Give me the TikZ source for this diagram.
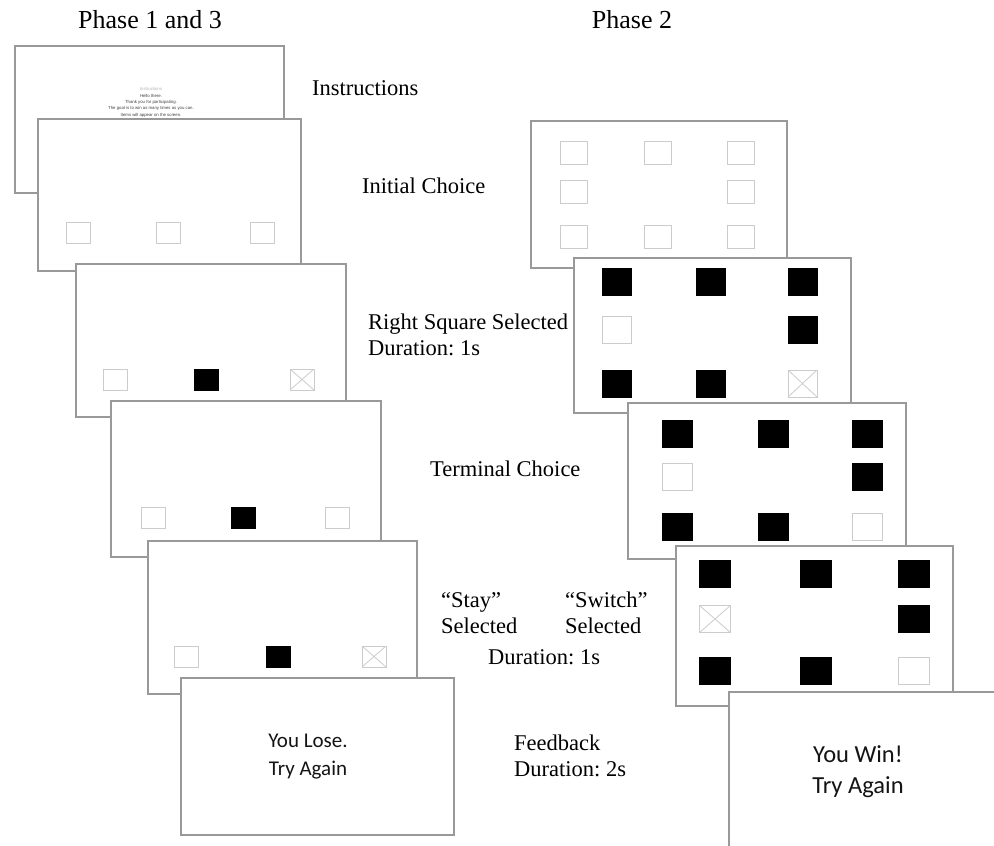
\documentclass[tikz,border=0pt]{standalone}
\usepackage{fontspec}
\setmainfont{Liberation Serif}
\newfontfamily\calib{Carlito}
\newfontfamily\tinysans{Liberation Sans}
\usetikzlibrary{shadows}
\frenchspacing
\begin{document}
\begin{tikzpicture}[x=1pt,y=-1pt,
  screen/.style={draw=gray!80, line width=1.5pt, fill=white, anchor=north west,
    inner sep=0pt, minimum width=270pt, minimum height=152pt,
    drop shadow={shadow xshift=1.2pt, shadow yshift=-1.2pt, fill=gray!45}},
  osq/.style={draw=gray!40, line width=0.8pt, fill=white, inner sep=0pt,
    minimum width=#1},
  osq/.default=24pt,
  bsq/.style={draw=black, fill=black, inner sep=0pt, minimum width=#1},
  bsq/.default=24pt,
  xsq/.style={osq=#1, path picture={
    \draw[gray!40, line width=0.8pt] (path picture bounding box.north west) -- (path picture bounding box.south east)
      (path picture bounding box.south west) -- (path picture bounding box.north east);}},
  xsq/.default=24pt,
  small/.style={minimum height=21pt},
  big/.style={minimum height=27pt},
  lab/.style={font=\frenchspacing\fontsize{22.5}{26}\selectfont, inner sep=0pt, align=left, anchor=west},
  phase/.style={font=\fontsize{26}{30}\selectfont, inner sep=0pt},
  fb/.style={font=\calib\fontsize{21}{28}\selectfont, inner sep=0pt, align=center, text=black!92}
]
\useasboundingbox (0,0) rectangle (994,846);
\clip (0,0) rectangle (994,846);

% titles
\node[phase] (p13) at (150,20) {Phase 1 and 3};
\node[phase] (p2) at (632,20) {Phase 2};

% labels
\node[lab] (linstr) at (312,88) {Instructions};
\node[lab] (linit) at (362,186) {Initial Choice};
\node[lab] (lright) at (368,335) {Right Square Selected\\Duration: 1s};
\node[lab] (lterm) at (430,469) {Terminal Choice};
\node[lab] (lstay) at (441,613) {“Stay”\\Selected};
\node[lab] (lswitch) at (565,613) {“Switch”\\Selected};
\node[lab] (ldur) at (488,657) {Duration: 1s};
\node[lab] (lfeed) at (514,756) {Feedback\\Duration: 2s};

% ---------- left column ----------
\node[screen, minimum width=269pt, minimum height=147pt] (L1) at (14,45) {};
\node[font=\tinysans\fontsize{4.3}{6.4}\selectfont, text=black!75, align=center, anchor=north] (L1t) at (151,84)
  {\textcolor{black!30}{Instructions}\\Hello there.\\Thank you for participating.\\The goal is to win as many times as you can.\\Items will appear on the screen.\\You can select those items using the mouse cursor.};

\node[screen, minimum width=263pt] (L2) at (37,118) {};
\node[osq, small] (L2a) at (78.5,232.5) {};
\node[osq, small] (L2b) at (168,232.5) {};
\node[osq, small] (L2c) at (262,232.5) {};

\node[screen, minimum height=153pt] (L3) at (75,263) {};
\node[osq, small] (L3a) at (115,379.5) {};
\node[bsq, small] (L3b) at (206,379.5) {};
\node[xsq, small] (L3c) at (302,379.5) {};

\node[screen, minimum height=156pt] (L4) at (110,400) {};
\node[osq, small] (L4a) at (153,518) {};
\node[bsq, small] (L4b) at (243,518) {};
\node[osq, small] (L4c) at (337,518) {};

\node[screen, minimum width=269pt, minimum height=153pt] (L5) at (147,540) {};
\node[osq, small] (L5a) at (186.5,656.5) {};
\node[bsq, small] (L5b) at (278,656.5) {};
\node[xsq, small] (L5c) at (374,656.5) {};

\node[screen, minimum width=273pt, minimum height=157pt] (L6) at (180,677) {};
\node[fb] (L6t) at (308,757) {You Lose.\\Try Again};

% ---------- right column ----------
\node[screen, minimum width=256pt, minimum height=147pt] (R1) at (530,120) {};
\foreach \x/\y [count=\i] in {573.5/152.5, 658/152.5, 741/152.5, 573.5/192, 741/192, 573.5/237, 658/237, 741/237}
  \node[osq=27pt, minimum height=23pt] (R1s\i) at (\x,\y) {};

\node[screen, minimum width=277pt, minimum height=155pt] (R2) at (573,257) {};
\node[bsq=29pt, big] (R2a) at (616.5,282) {};
\node[bsq=29pt, big] (R2b) at (711,282) {};
\node[bsq=29pt, big] (R2c) at (802.5,282) {};
\node[osq=29pt, big] (R2d) at (616.5,329.5) {};
\node[bsq=29pt, big] (R2e) at (802.5,329.5) {};
\node[bsq=29pt, big] (R2f) at (616.5,383.5) {};
\node[bsq=29pt, big] (R2g) at (711,383.5) {};
\node[xsq=29pt, big] (R2h) at (802.5,383.5) {};

\node[screen, minimum width=278pt, minimum height=156pt] (R3) at (627,402) {};
\node[bsq=30pt, big] (R3a) at (677,434) {};
\node[bsq=30pt, big] (R3b) at (773.5,434) {};
\node[bsq=30pt, big] (R3c) at (867.5,434) {};
\node[osq=30pt, big] (R3d) at (677,477) {};
\node[bsq=30pt, big] (R3e) at (867.5,477) {};
\node[bsq=30pt, big] (R3f) at (677,527) {};
\node[bsq=30pt, big] (R3g) at (773.5,527) {};
\node[osq=30pt, big] (R3h) at (867.5,527) {};

\node[screen, minimum width=277pt, minimum height=160pt] (R4) at (675,545) {};
\node[bsq=31pt, big] (R4a) at (715,573.5) {};
\node[bsq=31pt, big] (R4b) at (816,573.5) {};
\node[bsq=31pt, big] (R4c) at (913.5,573.5) {};
\node[xsq=31pt, big] (R4d) at (715,619) {};
\node[bsq=31pt, big] (R4e) at (913.5,619) {};
\node[bsq=31pt, big] (R4f) at (715,671) {};
\node[bsq=31pt, big] (R4g) at (816,671) {};
\node[osq=31pt, big] (R4h) at (913.5,671) {};

\node[screen, minimum width=280pt, minimum height=165pt] (R5) at (728,691) {};
\node[fb, font=\calib\fontsize{24.5}{31}\selectfont] (R5t) at (858,772) {You Win!\\Try Again};
\end{tikzpicture}
\end{document}
